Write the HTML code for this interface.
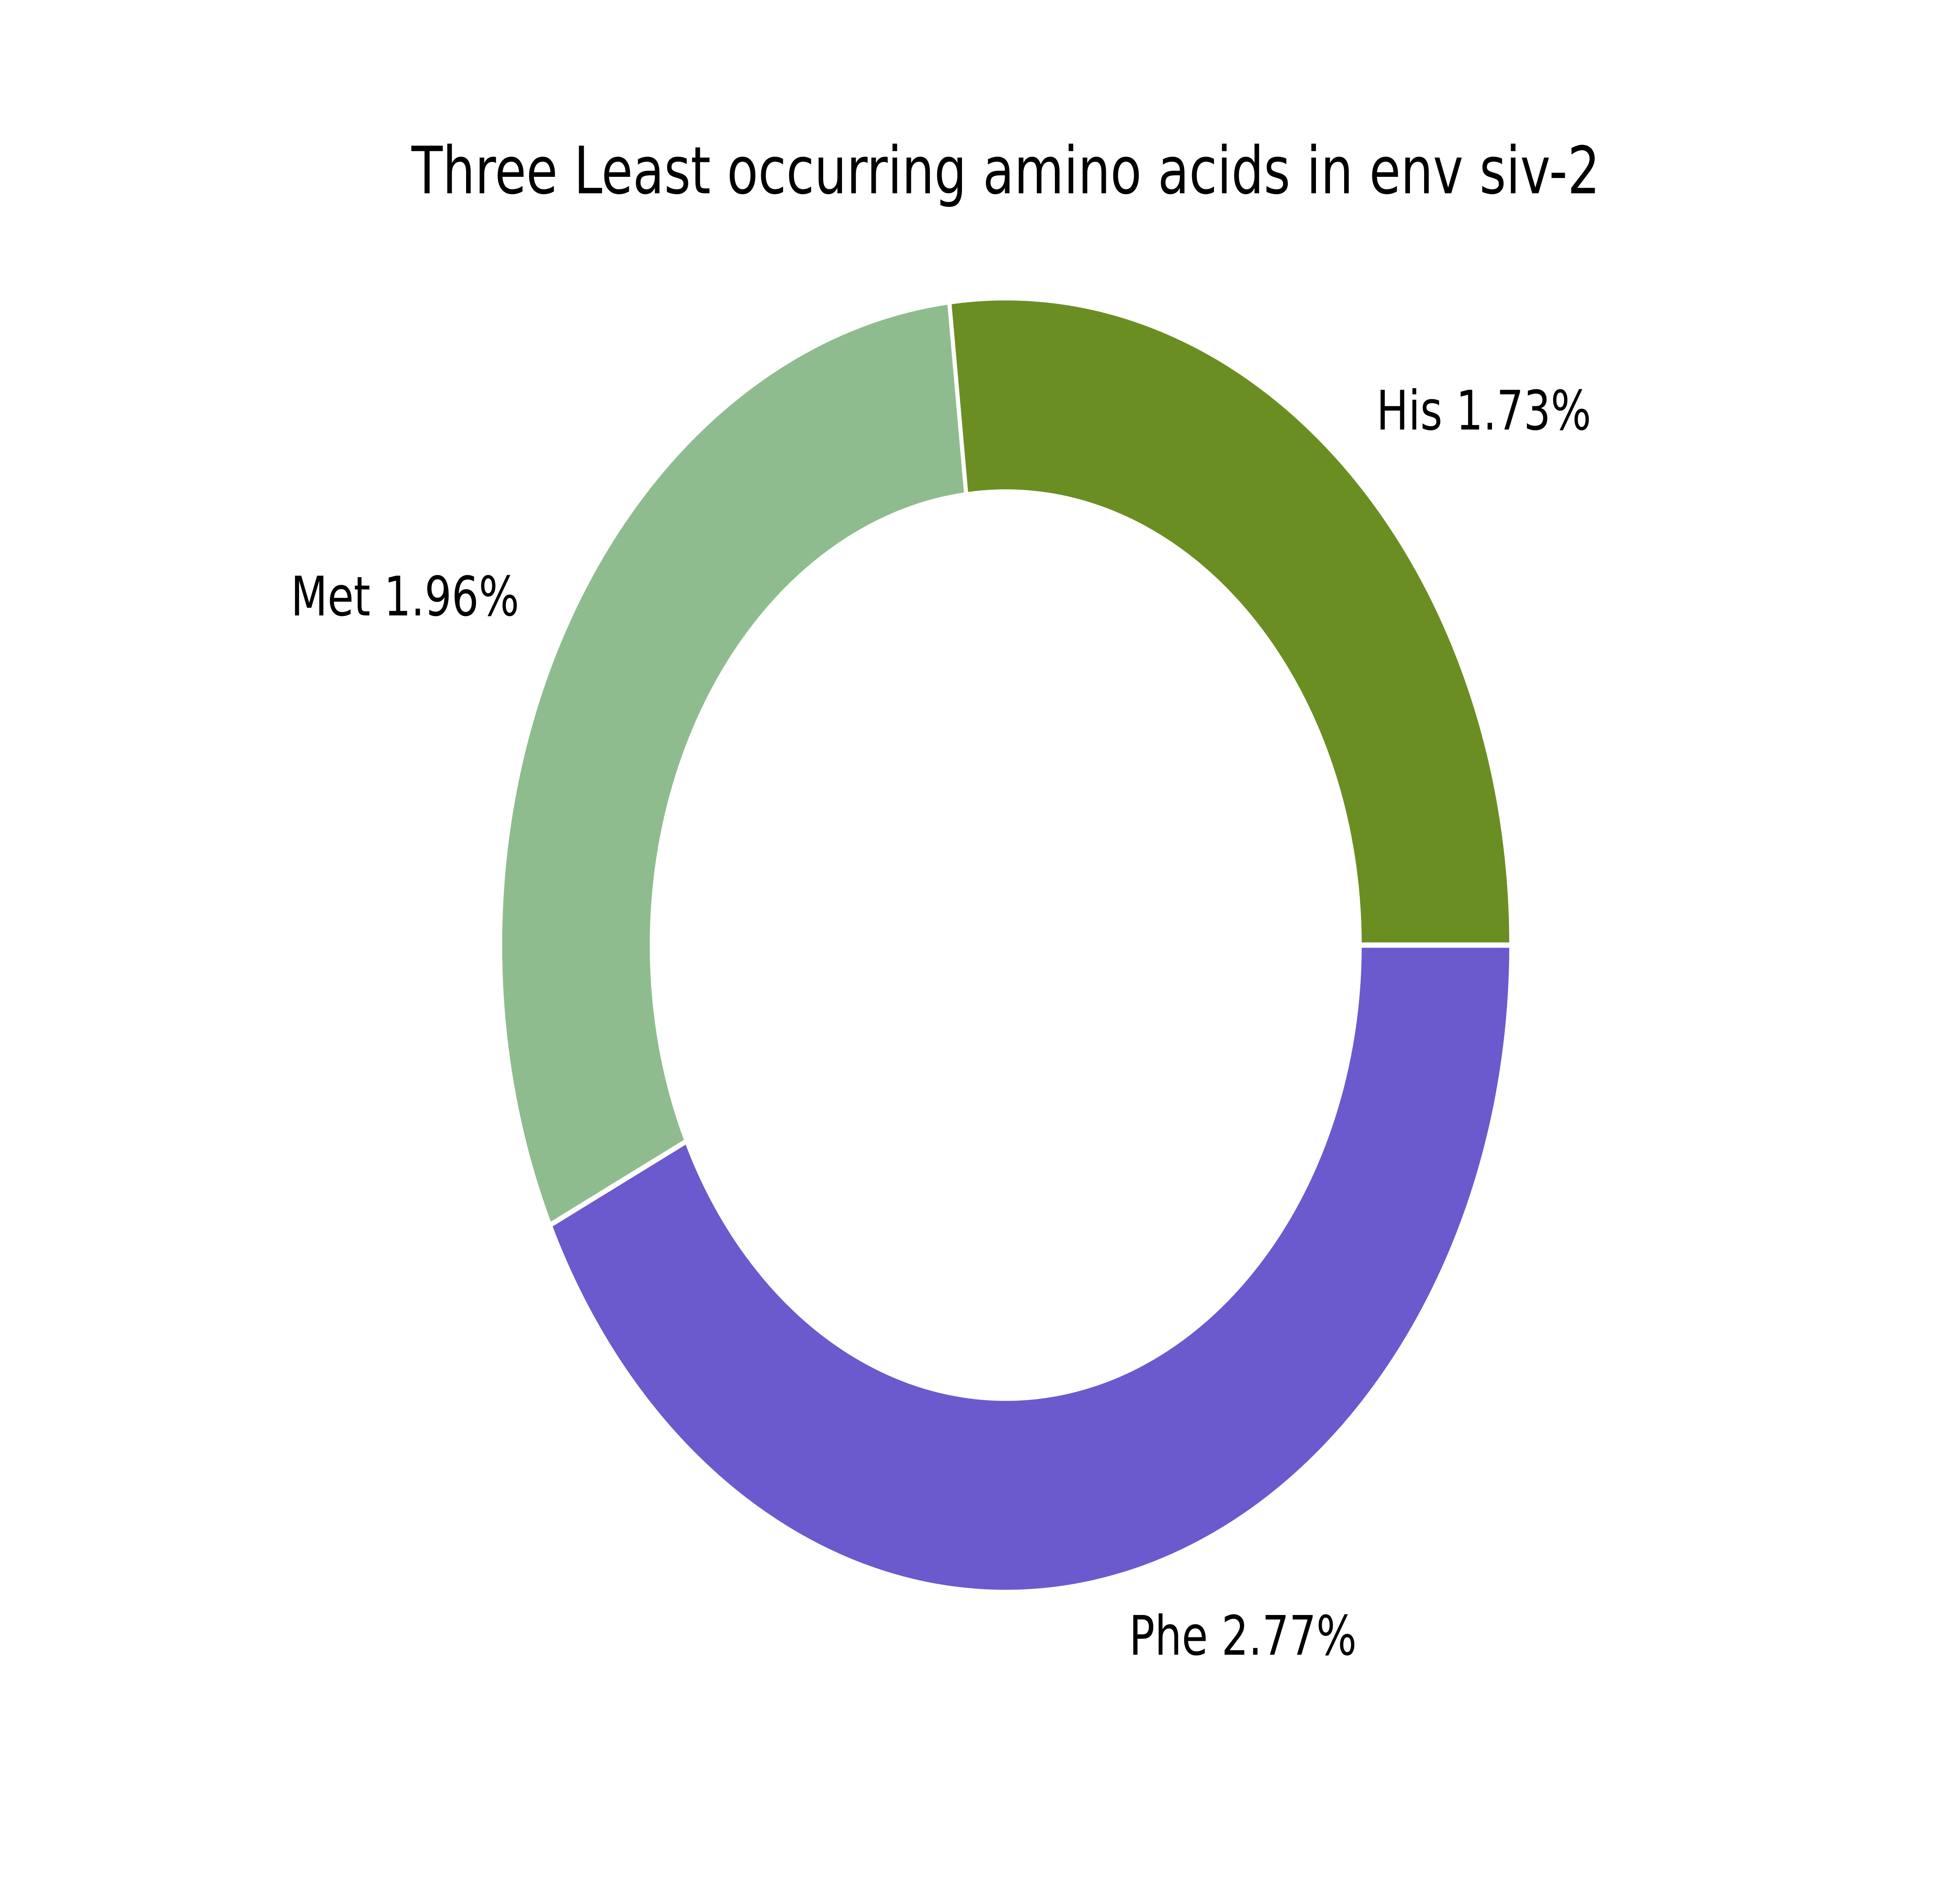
<!DOCTYPE html>
<html lang="en">
<head>
<meta charset="utf-8">
<meta name="viewport" content="width=6400, height=4800, initial-scale=1">
<title>Three Least occurring amino acids in env siv-2</title>
<style>
html,body{margin:0;padding:0;background:#fff;width:100%;height:100%;overflow:hidden}
svg{display:block;position:fixed;left:0;top:0;width:100vw;height:100vh}
text{font-family:"DejaVu Sans","Liberation Sans",sans-serif;fill:#000;text-rendering:geometricPrecision}
</style>
</head>
<body>
<svg id="chart" xmlns="http://www.w3.org/2000/svg" viewBox="0 0 6400 4800" preserveAspectRatio="none">
  <rect x="0" y="0" width="6400" height="4800" fill="#ffffff"/>
  <text x="3284" y="493" font-size="166.67" text-anchor="middle">Three Least occurring amino acids in env siv-2</text>
  <g id="wedges"></g>
  <g id="labels"></g>
</svg>
<script>
const categories = ['His', 'Met', 'Phe'];
const values = [1.73, 1.96, 2.77];
const colors = ['#6B8E23', '#8FBC8F', '#6A5ACD'];

const NS = 'http://www.w3.org/2000/svg';
const cx = 3284, cy = 2410.5, outerR = 1651, ringWidth = 0.3, labelDistance = 1.1;
const innerR = outerR * (1 - ringWidth);
const total = values.reduce((a, b) => a + b, 0);

function angleOf(value) { return value / total * 2 * Math.PI; }
function px(r, a) { return cx + r * Math.cos(a); }
function py(r, a) { return cy - r * Math.sin(a); }

function wedgePath(a0, a1) {
  const large = (a1 - a0) > Math.PI ? 1 : 0;
  return 'M' + px(outerR, a0) + ' ' + py(outerR, a0) +
    ' A' + outerR + ' ' + outerR + ' 0 ' + large + ' 0 ' + px(outerR, a1) + ' ' + py(outerR, a1) +
    ' L' + px(innerR, a1) + ' ' + py(innerR, a1) +
    ' A' + innerR + ' ' + innerR + ' 0 ' + large + ' 1 ' + px(innerR, a0) + ' ' + py(innerR, a0) + ' Z';
}

const wedgeGroup = document.getElementById('wedges');
const labelGroup = document.getElementById('labels');
let start = 0;
categories.forEach(function (name, i) {
  const sweep = angleOf(values[i]);
  const end = start + sweep;
  const mid = start + sweep / 2;

  const path = document.createElementNS(NS, 'path');
  path.setAttribute('d', wedgePath(start, end));
  path.setAttribute('fill', colors[i]);
  path.setAttribute('stroke', '#ffffff');
  path.setAttribute('stroke-width', '13.5');
  path.setAttribute('stroke-linejoin', 'miter');
  
  
  wedgeGroup.appendChild(path);

  const label = document.createElementNS(NS, 'text');
  label.setAttribute('x', px(outerR * labelDistance, mid));
  label.setAttribute('y', py(outerR * labelDistance, mid) + 39);
  label.setAttribute('font-size', '139');
  label.setAttribute('text-anchor', Math.cos(mid) >= 0 ? 'start' : 'end');
  
  
  label.textContent = name + ' ' + values[i].toFixed(2) + '%';
  labelGroup.appendChild(label);

  start = end;
});
</script>
</body>
</html>
